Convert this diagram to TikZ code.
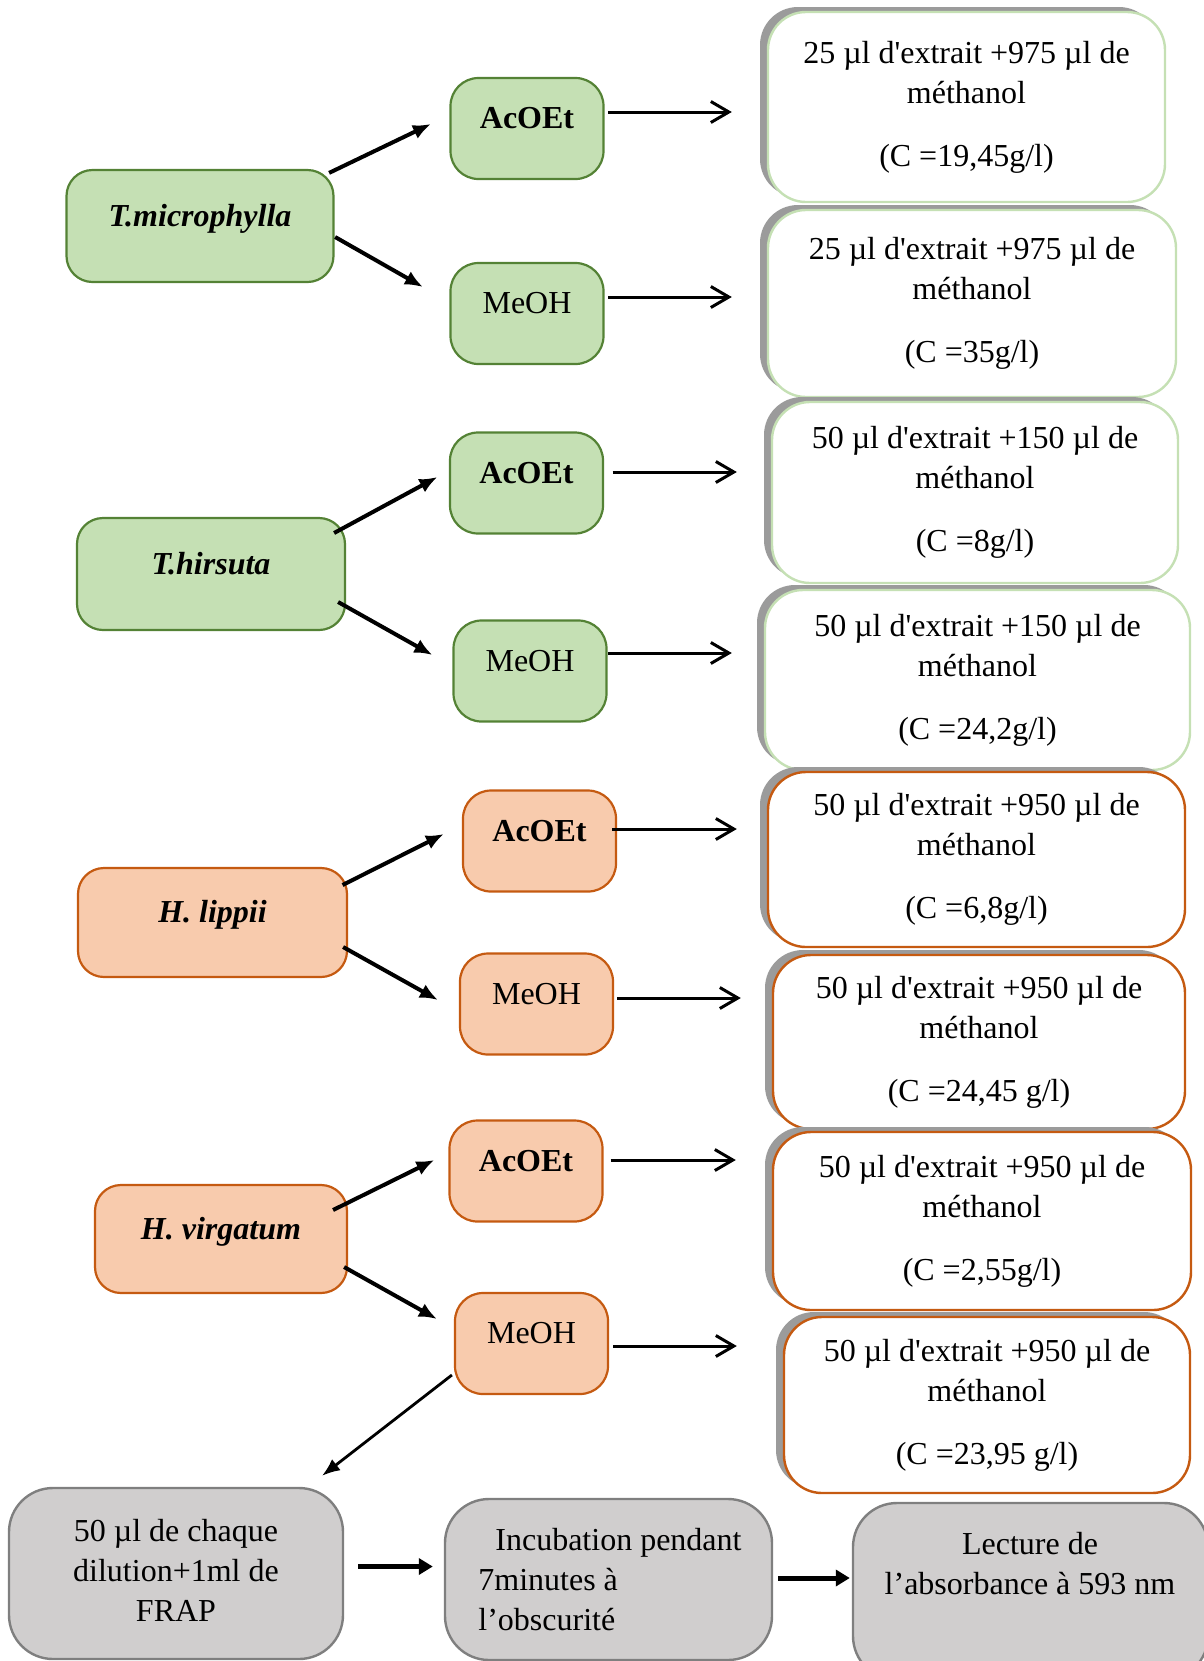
\documentclass[tikz,border=0pt]{standalone}
\usepackage{fontspec}
\newfontfamily\tnr{Liberation Serif}
\usetikzlibrary{arrows.meta,calc,shadows}
\definecolor{gfill}{HTML}{C5E0B4}
\definecolor{gline}{HTML}{548235}
\definecolor{ofill}{HTML}{F8CBAD}
\definecolor{oline}{HTML}{C55A11}
\definecolor{grfill}{HTML}{D0CECE}
\definecolor{grline}{HTML}{7F7F7F}
\definecolor{lgline}{HTML}{C5E0B4}
\definecolor{shad}{HTML}{9B9B9B}
\begin{document}
\begin{tikzpicture}[x=0.5pt,y=-0.5pt,
  every node/.style={font=\tnr\fontsize{16}{20}\selectfont, inner sep=0pt},
  spec/.style={rounded corners=13pt, line width=1.1pt, text height=6pt, text depth=6pt,
     font=\tnr\fontsize{16}{20}\selectfont\bfseries\itshape},
  specg/.style={spec, fill=gfill, draw=gline},
  speco/.style={spec, fill=ofill, draw=oline},
  mbox/.style={rounded corners=14pt, line width=1.1pt, minimum width=76.5pt, minimum height=50.5pt,
     text height=6pt, text depth=6pt},
  mboxg/.style={mbox, fill=gfill, draw=gline},
  mboxo/.style={mbox, fill=ofill, draw=oline},
  bold/.style={font=\tnr\fontsize{16}{20}\selectfont\bfseries},
  rbox/.style={rounded corners=19pt, fill=white, align=center,
     drop shadow={shadow xshift=-4pt, shadow yshift=2.5pt, fill=shad, opacity=1}},
  rboxg/.style={rbox, draw=lgline, line width=1.2pt},
  rboxo/.style={rbox, draw=oline, line width=1.2pt},
  gbox/.style={rounded corners=22pt, fill=grfill, draw=grline, line width=1.2pt},
  arrA/.style={line width=2pt, -{Latex[length=9pt,width=7.5pt]}},
  arrB/.style={line width=1.5pt, -{Straight Barb[length=9pt,width=10.5pt]}},
  arrC/.style={line width=1.4pt, -{Latex[length=9pt,width=7pt]}},
  arrD/.style={line width=2.5pt, -{Triangle[length=7pt,width=8pt]}}
]
\useasboundingbox (0,0) rectangle (1204,1661);
\clip (0,0) rectangle (1204,1661);

% species
\node[specg, minimum width=133.5pt, minimum height=56pt] (tm) at (200,226) {T.microphylla};
\node[specg, minimum width=134pt, minimum height=56pt] (th) at (211,574) {T.hirsuta};
\node[speco, minimum width=134.5pt, minimum height=54.5pt] (hl) at (212.5,922.5) {H. lippii};
\node[speco, minimum width=126pt, minimum height=54pt] (hv) at (221,1239) {H. virgatum};

% solvents
\node[mboxg, bold] (ac1) at (527,128.5) {AcOEt};
\node[mboxg] (me1) at (527,313.5) {MeOH};
\node[mboxg, bold] (ac2) at (526.5,483) {AcOEt};
\node[mboxg] (me2) at (530,671) {MeOH};
\node[mboxo, bold] (ac3) at (539.5,841) {AcOEt};
\node[mboxo] (me3) at (536.5,1004) {MeOH};
\node[mboxo, bold] (ac4) at (526,1171) {AcOEt};
\node[mboxo] (me4) at (531.5,1343.5) {MeOH};

% dilutions
\node[rboxg, minimum width=198.5pt, minimum height=95pt] (r1) at (966.5,107)
  {25 µl d'extrait +975 µl de\\méthanol\\[11.5pt](C =19,45g/l)};
\node[rboxg, minimum width=204pt, minimum height=93.5pt] (r2) at (972,303.5)
  {25 µl d'extrait +975 µl de\\méthanol\\[11.5pt](C =35g/l)};
\node[rboxg, minimum width=203pt, minimum height=90.5pt] (r3) at (975,492.5)
  {50 µl d'extrait +150 µl de\\méthanol\\[11.5pt](C =8g/l)};
\node[rboxg, minimum width=212.5pt, minimum height=90pt] (r4) at (977.5,680)
  {50 µl d'extrait +150 µl de\\méthanol\\[11.5pt](C =24,2g/l)};
\node[rboxo, minimum width=208.5pt, minimum height=87.5pt] (r5) at (976.5,859.5)
  {50 µl d'extrait +950 µl de\\méthanol\\[11.5pt](C =6,8g/l)};
\node[rboxo, minimum width=206pt, minimum height=87pt] (r6) at (979,1042)
  {50 µl d'extrait +950 µl de\\méthanol\\[11.5pt](C =24,45 g/l)};
\node[rboxo, minimum width=209pt, minimum height=89pt] (r7) at (982,1221)
  {50 µl d'extrait +950 µl de\\méthanol\\[11.5pt](C =2,55g/l)};
\node[rboxo, minimum width=203pt, minimum height=88pt] (r8) at (987,1405)
  {50 µl d'extrait +950 µl de\\méthanol\\[11.5pt](C =23,95 g/l)};

% bottom boxes
\node[gbox, minimum width=167pt, minimum height=85.5pt] (b1) at (176,1573.5) {};
\node[gbox, minimum width=163.5pt, minimum height=80.5pt] (b2) at (608.5,1579.5) {};
\node[gbox, minimum width=177.5pt, minimum height=88.5pt] (b3) at (1030.5,1591.5) {};
\node[align=center, anchor=north] (t1) at (176,1519) {50 µl de chaque\\dilution+1ml de\\FRAP};
\node[align=left, anchor=north west] (t2) at (478,1528) {\hspace*{8.5pt}Incubation pendant\\7minutes à\\l’obscurité};
\node[align=center, anchor=north] (t3) at (1030,1532) {Lecture de\\l’absorbance à 593 nm};

% species -> solvent
\draw[arrA] ($(tm.north east)+(-5.5,4)$) -- ($(ac1.west)+(-18.5,-4.5)$);
\draw[arrA] ($(tm.east)+(0.5,11)$) -- ($(me1.west)+(-26.5,-26.5)$);
\draw[arrA] ($(th.east)+(-12,-41)$) -- ($(ac2.west)+(-11.5,-6)$);
\draw[arrA] ($(th.east)+(-8,28)$) -- ($(me2.west)+(-20,-16)$);
\draw[arrA] ($(hl.east)+(-5.5,-37.5)$) -- ($(ac3.west)+(-18,-7)$);
\draw[arrA] ($(hl.east)+(-5,24.5)$) -- ($(me3.west)+(-21,-4)$);
\draw[arrA] ($(hv.east)+(-15,-29)$) -- ($(ac4.west)+(-14,-11)$);
\draw[arrA] ($(hv.east)+(-4,28)$) -- ($(me4.west)+(-17,-24.5)$);
\draw[arrC] ($(me4.west)+(-2,31.5)$) -- ($(b1.north)+(146,-11)$);

% solvent -> dilution
\coordinate (p1) at ($(ac1.east)+(3.5,-16.5)$);
\draw[arrB, shorten >=17.5pt] (p1) -- (p1 -| r1.west);
\coordinate (p2) at ($(me1.east)+(3.5,-16.5)$);
\draw[arrB, shorten >=17.5pt] (p2) -- (p2 -| r2.west);
\coordinate (p3) at ($(ac2.east)+(8.5,-11)$);
\draw[arrB, shorten >=17pt] (p3) -- (p3 -| r3.west);
\coordinate (p4) at ($(me2.east)+(0.5,-18)$);
\draw[arrB, shorten >=16pt] (p4) -- (p4 -| r4.west);
\coordinate (p5) at ($(ac3.east)+(-5,-12)$);
\draw[arrB, shorten >=15pt] (p5) -- (p5 -| r5.west);
\coordinate (p6) at ($(me3.east)+(3,-6)$);
\draw[arrB, shorten >=15.5pt] (p6) -- (p6 -| r6.west);
\coordinate (p7) at ($(ac4.east)+(7,-11)$);
\draw[arrB, shorten >=18pt] (p7) -- (p7 -| r7.west);
\coordinate (p8) at ($(me4.east)+(4,2.5)$);
\draw[arrB, shorten >=23pt] (p8) -- (p8 -| r8.west);

% bottom chain
\coordinate (q1) at ($(b1.east)+(14,-7)$);
\draw[arrD, shorten >=5.5pt] (q1) -- (q1 -| b2.west);
\coordinate (q2) at ($(b2.east)+(5,-1.5)$);
\draw[arrD, shorten >=1pt] (q2) -- (q2 -| b3.west);
\end{tikzpicture}
\end{document}
